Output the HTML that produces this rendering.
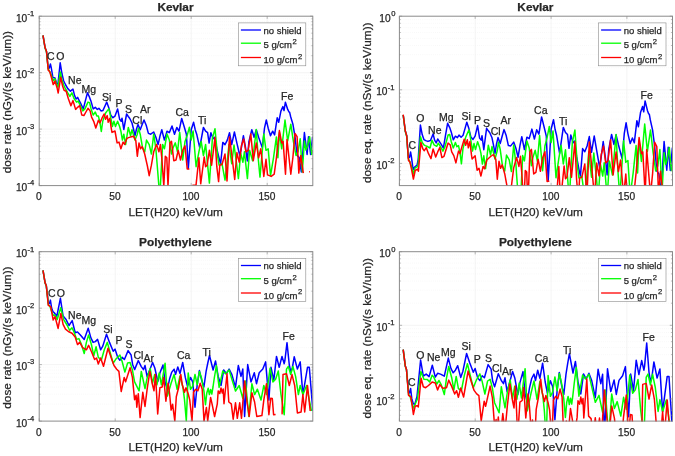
<!DOCTYPE html>
<html lang="en"><head><meta charset="utf-8"><title>Dose rate LET spectra</title>
<style>html,body{margin:0;padding:0;background:#fff}svg{display:block}text{font-family:'Liberation Sans', Arial, sans-serif;fill:#262626;stroke:#262626;stroke-width:0.25px}</style>
</head><body>
<svg width="675" height="456" viewBox="0 0 675 456">
<rect width="675" height="456" fill="#fff"/>
<defs>
<clipPath id="c0"><rect x="39.2" y="16.2" width="273.6" height="169.9"/></clipPath>
<clipPath id="c1"><rect x="399.4" y="16.2" width="273.6" height="169.9"/></clipPath>
<clipPath id="c2"><rect x="39.2" y="251.7" width="273.6" height="169.9"/></clipPath>
<clipPath id="c3"><rect x="399.4" y="251.7" width="273.6" height="169.9"/></clipPath>
</defs>
<g><line x1="115.2" y1="16.2" x2="115.2" y2="185.6" stroke="#ededed" stroke-width="0.6"/><line x1="191.2" y1="16.2" x2="191.2" y2="185.6" stroke="#ededed" stroke-width="0.6"/><line x1="267.2" y1="16.2" x2="267.2" y2="185.6" stroke="#ededed" stroke-width="0.6"/><line x1="39.2" y1="72.7" x2="312.8" y2="72.7" stroke="#ededed" stroke-width="0.6"/><line x1="39.2" y1="129.1" x2="312.8" y2="129.1" stroke="#ededed" stroke-width="0.6"/><line x1="39.2" y1="168.6" x2="312.8" y2="168.6" stroke="#ececec" stroke-width="0.5" stroke-dasharray="0.7 1.4"/><line x1="39.2" y1="158.7" x2="312.8" y2="158.7" stroke="#ececec" stroke-width="0.5" stroke-dasharray="0.7 1.4"/><line x1="39.2" y1="151.6" x2="312.8" y2="151.6" stroke="#ececec" stroke-width="0.5" stroke-dasharray="0.7 1.4"/><line x1="39.2" y1="146.1" x2="312.8" y2="146.1" stroke="#ececec" stroke-width="0.5" stroke-dasharray="0.7 1.4"/><line x1="39.2" y1="141.7" x2="312.8" y2="141.7" stroke="#ececec" stroke-width="0.5" stroke-dasharray="0.7 1.4"/><line x1="39.2" y1="137.9" x2="312.8" y2="137.9" stroke="#ececec" stroke-width="0.5" stroke-dasharray="0.7 1.4"/><line x1="39.2" y1="134.6" x2="312.8" y2="134.6" stroke="#ececec" stroke-width="0.5" stroke-dasharray="0.7 1.4"/><line x1="39.2" y1="131.7" x2="312.8" y2="131.7" stroke="#ececec" stroke-width="0.5" stroke-dasharray="0.7 1.4"/><line x1="39.2" y1="112.1" x2="312.8" y2="112.1" stroke="#ececec" stroke-width="0.5" stroke-dasharray="0.7 1.4"/><line x1="39.2" y1="102.2" x2="312.8" y2="102.2" stroke="#ececec" stroke-width="0.5" stroke-dasharray="0.7 1.4"/><line x1="39.2" y1="95.1" x2="312.8" y2="95.1" stroke="#ececec" stroke-width="0.5" stroke-dasharray="0.7 1.4"/><line x1="39.2" y1="89.7" x2="312.8" y2="89.7" stroke="#ececec" stroke-width="0.5" stroke-dasharray="0.7 1.4"/><line x1="39.2" y1="85.2" x2="312.8" y2="85.2" stroke="#ececec" stroke-width="0.5" stroke-dasharray="0.7 1.4"/><line x1="39.2" y1="81.4" x2="312.8" y2="81.4" stroke="#ececec" stroke-width="0.5" stroke-dasharray="0.7 1.4"/><line x1="39.2" y1="78.1" x2="312.8" y2="78.1" stroke="#ececec" stroke-width="0.5" stroke-dasharray="0.7 1.4"/><line x1="39.2" y1="75.3" x2="312.8" y2="75.3" stroke="#ececec" stroke-width="0.5" stroke-dasharray="0.7 1.4"/><line x1="39.2" y1="55.7" x2="312.8" y2="55.7" stroke="#ececec" stroke-width="0.5" stroke-dasharray="0.7 1.4"/><line x1="39.2" y1="45.7" x2="312.8" y2="45.7" stroke="#ececec" stroke-width="0.5" stroke-dasharray="0.7 1.4"/><line x1="39.2" y1="38.7" x2="312.8" y2="38.7" stroke="#ececec" stroke-width="0.5" stroke-dasharray="0.7 1.4"/><line x1="39.2" y1="33.2" x2="312.8" y2="33.2" stroke="#ececec" stroke-width="0.5" stroke-dasharray="0.7 1.4"/><line x1="39.2" y1="28.7" x2="312.8" y2="28.7" stroke="#ececec" stroke-width="0.5" stroke-dasharray="0.7 1.4"/><line x1="39.2" y1="24.9" x2="312.8" y2="24.9" stroke="#ececec" stroke-width="0.5" stroke-dasharray="0.7 1.4"/><line x1="39.2" y1="21.7" x2="312.8" y2="21.7" stroke="#ececec" stroke-width="0.5" stroke-dasharray="0.7 1.4"/><line x1="39.2" y1="18.8" x2="312.8" y2="18.8" stroke="#ececec" stroke-width="0.5" stroke-dasharray="0.7 1.4"/></g>
<g clip-path="url(#c0)" fill="none" stroke-width="1.50" stroke-linejoin="round" stroke-linecap="butt">
<path d="M43.0 35.5 L45.1 47.8 L46.5 51.5 L48.2 68.5 L49.3 68.0 L50.4 63.9 L51.3 68.0 L52.9 77.5 L55.0 77.9 L56.9 84.4 L58.0 83.5 L60.2 62.8 L62.0 74.0 L63.7 81.0 L65.7 85.0 L67.8 88.6 L70.4 91.2 L73.0 89.1 L74.5 95.4 L76.1 99.0 L77.6 97.4 L79.2 100.6 L81.3 104.7 L83.3 108.9 L85.4 100.6 L87.5 92.8 L89.6 97.4 L91.1 101.6 L93.2 108.9 L95.3 107.3 L97.3 109.4 L98.9 108.3 L101.0 110.9 L103.0 110.4 L105.1 105.7 L106.7 102.1 L108.8 107.8 L110.8 115.1 L112.9 117.7 L115.0 116.1 L117.6 108.9 L119.6 119.2 L121.2 121.3 L122.0 118.2 L123.8 129.5 L125.3 121.0 L126.6 114.0 L128.3 116.5 L129.8 118.5 L132.0 123.0 L133.5 129.0 L135.0 135.7 L136.5 129.0 L138.0 124.5 L140.2 129.7 L142.0 125.0 L144.0 120.0 L146.2 125.2 L148.4 133.4 L150.7 134.2 L153.7 132.0 L155.9 137.2 L158.1 144.6 L160.0 136.0 L161.8 129.7 L164.4 140.1 L167.0 131.2 L169.3 132.7 L172.0 126.0 L174.5 134.2 L176.8 127.5 L179.0 131.2 L181.7 118.5 L184.2 126.7 L186.4 134.2 L188.3 168.5 L191.2 129.7 L193.6 122.3 L195.2 129.7 L196.7 134.2 L199.7 147.6 L203.4 127.5 L205.6 131.2 L207.6 132.7 L209.1 143.1 L210.9 132.7 L213.1 138.7 L214.6 137.2 L216.8 149.0 L219.0 158.0 L220.6 164.0 L222.8 142.4 L225.0 144.6 L227.3 140.1 L229.5 132.7 L231.7 144.6 L234.4 132.0 L236.9 143.1 L238.5 150.0 L239.9 156.0 L241.5 147.0 L243.4 135.7 L245.6 148.0 L247.3 161.0 L248.9 141.6 L251.8 129.7 L254.1 137.2 L256.3 129.7 L258.6 137.2 L262.3 147.6 L264.5 128.2 L266.3 120.0 L268.2 128.2 L270.5 135.7 L272.7 131.2 L274.6 134.9 L277.2 117.8 L278.7 122.3 L280.9 111.1 L282.9 106.6 L284.0 110.6 L285.4 102.2 L287.7 109.4 L289.0 112.0 L289.6 112.2 L290.6 116.5 L292.9 124.2 L295.0 136.7 L297.1 155.4 L299.2 157.5 L301.3 172.0 L304.4 132.5 L307.1 154.4 L308.5 136.7 L310.6 154.4 L312.7 136.7" stroke="#0000ff"/>
<path d="M43.0 35.5 L45.1 48.0 L46.5 52.0 L48.2 69.0 L49.7 71.5 L51.3 75.0 L53.2 80.8 L55.0 78.8 L57.2 86.7 L58.0 87.0 L60.3 72.0 L62.0 80.0 L63.7 85.0 L65.2 88.1 L67.8 92.8 L69.9 96.4 L71.9 92.8 L74.0 98.5 L76.6 102.1 L78.2 101.1 L80.2 105.2 L82.8 110.9 L84.9 108.9 L88.0 102.1 L89.6 102.6 L91.1 108.9 L93.2 115.1 L95.3 112.0 L96.8 116.1 L98.4 116.1 L99.9 122.3 L101.3 131.5 L102.8 121.0 L103.7 118.5 L105.6 113.0 L107.2 110.9 L108.8 108.9 L110.3 115.1 L112.4 126.5 L113.9 121.3 L115.5 126.5 L117.6 121.3 L119.6 126.5 L120.9 131.2 L122.4 140.1 L123.8 134.2 L125.6 144.6 L128.3 127.5 L130.6 135.7 L132.0 129.7 L135.0 140.1 L137.3 134.2 L138.5 128.2 L140.2 134.2 L142.5 147.6 L144.7 152.0 L146.5 140.1 L149.2 144.6 L151.4 154.0 L153.7 134.2 L155.9 149.0 L156.6 157.8 L158.9 186.0 L160.4 186.0 L162.6 144.4 L164.4 148.8 L167.0 134.0 L169.3 139.9 L171.5 154.0 L173.0 148.0 L175.3 142.9 L177.5 151.8 L179.7 132.4 L182.7 160.0 L185.0 141.4 L187.2 135.4 L189.4 127.2 L191.2 139.9 L193.1 131.0 L196.1 166.7 L198.9 151.8 L201.2 141.4 L203.4 155.5 L205.6 144.4 L209.4 183.1 L212.4 138.4 L215.0 128.7 L217.6 156.3 L219.1 165.2 L222.0 163.7 L225.0 180.1 L227.3 160.7 L229.0 144.4 L231.7 163.7 L234.0 145.1 L236.2 160.7 L238.4 178.6 L240.7 153.3 L242.9 162.2 L244.4 151.8 L247.4 178.6 L249.6 150.3 L252.6 160.7 L256.3 129.5 L258.3 159.3 L260.0 177.1 L263.8 133.9 L266.0 150.3 L268.2 148.8 L270.5 175.7 L273.5 157.8 L276.4 136.9 L277.9 157.8 L279.4 132.4 L281.7 148.8 L285.0 120.0 L287.7 140.8 L290.8 124.2 L293.3 140.8 L296.0 155.4 L298.1 151.3 L300.2 138.8 L302.3 172.0 L304.4 141.0 L306.0 150.0 L307.5 146.0 L309.6 136.7 L311.7 154.4 L312.7 150.0" stroke="#00ff00"/>
<path d="M43.0 35.3 L45.1 47.8 L46.5 51.3 L48.3 70.4 L49.7 71.5 L51.3 77.0 L53.2 84.6 L55.0 81.0 L57.2 88.4 L58.2 93.0 L60.7 77.2 L61.7 82.0 L62.6 86.0 L64.1 90.2 L66.2 91.2 L68.3 98.5 L70.9 105.7 L73.0 100.6 L75.6 109.4 L77.6 107.3 L79.7 105.7 L81.8 115.1 L83.9 115.6 L85.9 112.0 L88.0 108.3 L90.1 110.9 L91.6 117.2 L93.7 121.3 L95.8 128.0 L98.4 120.3 L99.9 122.9 L102.0 118.2 L104.1 114.0 L105.6 119.2 L107.2 115.6 L108.2 122.3 L109.8 118.2 L111.3 128.6 L112.0 132.4 L115.0 131.0 L117.1 142.9 L119.0 142.1 L120.9 148.8 L123.1 142.1 L124.6 144.4 L126.8 138.4 L130.6 136.9 L133.5 136.2 L135.8 140.6 L137.3 156.3 L139.0 142.9 L140.5 148.8 L142.2 146.6 L144.7 154.0 L147.4 166.0 L149.2 175.7 L151.4 165.2 L153.7 151.8 L156.6 144.4 L158.9 151.8 L160.4 144.4 L161.8 157.8 L163.8 186.0 L165.3 156.3 L166.8 157.8 L168.0 186.0 L170.0 142.9 L171.5 141.4 L173.8 160.7 L176.0 160.0 L178.2 150.3 L180.5 160.0 L182.7 150.3 L185.0 145.8 L187.2 169.0 L189.4 169.0 M192.4 185.3 L196.0 185.3 L198.9 157.8 L200.7 183.8 L204.2 157.0 L205.6 166.7 L207.1 165.2 L209.4 150.3 L211.6 165.2 L215.0 137.6 L216.8 166.7 L218.6 181.6 L219.8 165.2 L222.0 164.5 L225.0 154.0 L227.0 180.9 L229.5 136.9 L231.7 154.0 L234.7 179.4 L236.9 152.6 L239.2 162.2 L241.4 145.8 L243.7 139.1 L245.9 151.8 L248.1 150.3 L250.8 133.9 L253.3 160.7 L256.3 142.9 L258.6 157.8 L260.8 148.8 L263.8 176.4 L266.0 159.3 L267.5 174.9 L271.2 176.4 L274.2 174.2 L276.4 157.8 L279.4 130.6 L281.7 142.9 L283.1 141.4 L285.5 174.2 L287.0 139.5 L290.8 174.2 L292.9 157.5 L295.0 133.5 L297.1 136.7 L298.8 173.1 L300.8 155.4 L303.3 173.1 M309.2 171.7 L310.0 171.7" stroke="#ff0000"/>
</g>
<rect x="39.2" y="16.2" width="273.6" height="169.4" fill="none" stroke="#8a8a8a" stroke-width="1"/>
<path d="M39.2 185.6v-2.7M39.2 16.2v2.7M115.2 185.6v-2.7M115.2 16.2v2.7M191.2 185.6v-2.7M191.2 16.2v2.7M267.2 185.6v-2.7M267.2 16.2v2.7M39.2 16.2h2.7M312.8 16.2h-2.7M39.2 72.7h2.7M312.8 72.7h-2.7M39.2 129.1h2.7M312.8 129.1h-2.7M39.2 185.6h2.7M312.8 185.6h-2.7M39.2 168.6h1.4M312.8 168.6h-1.4M39.2 158.7h1.4M312.8 158.7h-1.4M39.2 151.6h1.4M312.8 151.6h-1.4M39.2 146.1h1.4M312.8 146.1h-1.4M39.2 141.7h1.4M312.8 141.7h-1.4M39.2 137.9h1.4M312.8 137.9h-1.4M39.2 134.6h1.4M312.8 134.6h-1.4M39.2 131.7h1.4M312.8 131.7h-1.4M39.2 112.1h1.4M312.8 112.1h-1.4M39.2 102.2h1.4M312.8 102.2h-1.4M39.2 95.1h1.4M312.8 95.1h-1.4M39.2 89.7h1.4M312.8 89.7h-1.4M39.2 85.2h1.4M312.8 85.2h-1.4M39.2 81.4h1.4M312.8 81.4h-1.4M39.2 78.1h1.4M312.8 78.1h-1.4M39.2 75.3h1.4M312.8 75.3h-1.4M39.2 55.7h1.4M312.8 55.7h-1.4M39.2 45.7h1.4M312.8 45.7h-1.4M39.2 38.7h1.4M312.8 38.7h-1.4M39.2 33.2h1.4M312.8 33.2h-1.4M39.2 28.7h1.4M312.8 28.7h-1.4M39.2 24.9h1.4M312.8 24.9h-1.4M39.2 21.7h1.4M312.8 21.7h-1.4M39.2 18.8h1.4M312.8 18.8h-1.4" stroke="#8a8a8a" stroke-width="0.6" fill="none"/>
<text x="38.9" y="200.2" font-size="10.2" text-anchor="middle">0</text>
<text x="114.9" y="200.2" font-size="10.2" text-anchor="middle">50</text>
<text x="190.9" y="200.2" font-size="10.2" text-anchor="middle">100</text>
<text x="266.9" y="200.2" font-size="10.2" text-anchor="middle">150</text>
<text x="27.3" y="21.8" font-size="10.2" text-anchor="end">10</text>
<text x="34.3" y="16.0" font-size="7.6" text-anchor="end">-1</text>
<text x="27.3" y="78.3" font-size="10.2" text-anchor="end">10</text>
<text x="34.3" y="72.5" font-size="7.6" text-anchor="end">-2</text>
<text x="27.3" y="134.7" font-size="10.2" text-anchor="end">10</text>
<text x="34.3" y="128.9" font-size="7.6" text-anchor="end">-3</text>
<text x="27.3" y="191.2" font-size="10.2" text-anchor="end">10</text>
<text x="34.3" y="185.4" font-size="7.6" text-anchor="end">-4</text>
<text x="175.5" y="10.6" font-size="11.8" font-weight="bold" text-anchor="middle">Kevlar</text>
<text x="175.7" y="215.8" font-size="11.8" text-anchor="middle">LET(H20) keV/um</text>
<text transform="translate(10.5 102.1) rotate(-90)" font-size="11.8" text-anchor="middle">dose rate (nGy/(s keV/um))</text>
<rect x="238.3" y="22.9" width="67.5" height="42.9" fill="#fff" stroke="#8a8a8a" stroke-width="0.6"/>
<line x1="240.9" y1="30.0" x2="261.0" y2="30.0" stroke="#0000ff" stroke-width="1.3"/>
<text x="263.5" y="33.7" font-size="9.5">no shield</text>
<line x1="240.9" y1="43.2" x2="261.0" y2="43.2" stroke="#00ff00" stroke-width="1.3"/>
<text x="263.5" y="48.4" font-size="9.5">5 g/cm<tspan dx="0.6" dy="-4.1" font-size="7.6">2</tspan></text>
<line x1="240.9" y1="57.5" x2="261.0" y2="57.5" stroke="#ff0000" stroke-width="1.3"/>
<text x="263.5" y="63.0" font-size="9.5">10 g/cm<tspan dx="0.6" dy="-4.1" font-size="7.6">2</tspan></text>
<text x="47.0" y="59.5" font-size="10.5">C</text>
<text x="56.2" y="59.5" font-size="10.5">O</text>
<text x="68.1" y="83.5" font-size="10.5">Ne</text>
<text x="81.5" y="92.7" font-size="10.5">Mg</text>
<text x="102.1" y="100.5" font-size="10.5">Si</text>
<text x="115.5" y="107.2" font-size="10.5">P</text>
<text x="124.9" y="112.6" font-size="10.5">S</text>
<text x="132.3" y="123.8" font-size="10.5">Cl</text>
<text x="140.1" y="113.2" font-size="10.5">Ar</text>
<text x="175.5" y="116.1" font-size="10.5">Ca</text>
<text x="198.0" y="124.0" font-size="10.5">Ti</text>
<text x="281.0" y="100.0" font-size="10.5">Fe</text>
<g><line x1="475.2" y1="16.2" x2="475.2" y2="185.6" stroke="#ededed" stroke-width="0.6"/><line x1="551.1" y1="16.2" x2="551.1" y2="185.6" stroke="#ededed" stroke-width="0.6"/><line x1="626.9" y1="16.2" x2="626.9" y2="185.6" stroke="#ededed" stroke-width="0.6"/><line x1="399.4" y1="89.8" x2="672.5" y2="89.8" stroke="#ededed" stroke-width="0.6"/><line x1="399.4" y1="163.4" x2="672.5" y2="163.4" stroke="#ededed" stroke-width="0.6"/><line x1="399.4" y1="179.8" x2="672.5" y2="179.8" stroke="#ececec" stroke-width="0.5" stroke-dasharray="0.7 1.4"/><line x1="399.4" y1="174.8" x2="672.5" y2="174.8" stroke="#ececec" stroke-width="0.5" stroke-dasharray="0.7 1.4"/><line x1="399.4" y1="170.6" x2="672.5" y2="170.6" stroke="#ececec" stroke-width="0.5" stroke-dasharray="0.7 1.4"/><line x1="399.4" y1="166.8" x2="672.5" y2="166.8" stroke="#ececec" stroke-width="0.5" stroke-dasharray="0.7 1.4"/><line x1="399.4" y1="141.3" x2="672.5" y2="141.3" stroke="#ececec" stroke-width="0.5" stroke-dasharray="0.7 1.4"/><line x1="399.4" y1="128.3" x2="672.5" y2="128.3" stroke="#ececec" stroke-width="0.5" stroke-dasharray="0.7 1.4"/><line x1="399.4" y1="119.1" x2="672.5" y2="119.1" stroke="#ececec" stroke-width="0.5" stroke-dasharray="0.7 1.4"/><line x1="399.4" y1="112.0" x2="672.5" y2="112.0" stroke="#ececec" stroke-width="0.5" stroke-dasharray="0.7 1.4"/><line x1="399.4" y1="106.2" x2="672.5" y2="106.2" stroke="#ececec" stroke-width="0.5" stroke-dasharray="0.7 1.4"/><line x1="399.4" y1="101.2" x2="672.5" y2="101.2" stroke="#ececec" stroke-width="0.5" stroke-dasharray="0.7 1.4"/><line x1="399.4" y1="97.0" x2="672.5" y2="97.0" stroke="#ececec" stroke-width="0.5" stroke-dasharray="0.7 1.4"/><line x1="399.4" y1="93.2" x2="672.5" y2="93.2" stroke="#ececec" stroke-width="0.5" stroke-dasharray="0.7 1.4"/><line x1="399.4" y1="67.7" x2="672.5" y2="67.7" stroke="#ececec" stroke-width="0.5" stroke-dasharray="0.7 1.4"/><line x1="399.4" y1="54.7" x2="672.5" y2="54.7" stroke="#ececec" stroke-width="0.5" stroke-dasharray="0.7 1.4"/><line x1="399.4" y1="45.5" x2="672.5" y2="45.5" stroke="#ececec" stroke-width="0.5" stroke-dasharray="0.7 1.4"/><line x1="399.4" y1="38.4" x2="672.5" y2="38.4" stroke="#ececec" stroke-width="0.5" stroke-dasharray="0.7 1.4"/><line x1="399.4" y1="32.5" x2="672.5" y2="32.5" stroke="#ececec" stroke-width="0.5" stroke-dasharray="0.7 1.4"/><line x1="399.4" y1="27.6" x2="672.5" y2="27.6" stroke="#ececec" stroke-width="0.5" stroke-dasharray="0.7 1.4"/><line x1="399.4" y1="23.3" x2="672.5" y2="23.3" stroke="#ececec" stroke-width="0.5" stroke-dasharray="0.7 1.4"/><line x1="399.4" y1="19.6" x2="672.5" y2="19.6" stroke="#ececec" stroke-width="0.5" stroke-dasharray="0.7 1.4"/></g>
<g clip-path="url(#c1)" fill="none" stroke-width="1.50" stroke-linejoin="round" stroke-linecap="butt">
<path d="M403.2 115.0 L405.3 131.0 L406.7 135.8 L408.4 158.0 L409.5 157.4 L410.6 152.0 L411.5 157.4 L413.1 169.7 L415.2 166.5 L417.1 165.2 L418.2 159.5 L420.4 125.1 L422.2 134.6 L423.9 139.6 L425.8 140.6 L427.9 141.4 L430.5 140.5 L433.1 133.9 L434.6 140.2 L436.2 142.9 L437.7 139.0 L439.3 141.4 L441.4 144.6 L443.4 148.1 L445.5 135.3 L447.6 123.3 L449.7 127.6 L451.2 131.9 L453.3 139.8 L455.4 136.2 L457.4 137.6 L459.0 135.1 L461.1 137.2 L463.1 135.3 L465.2 127.9 L466.8 122.3 L468.9 128.6 L470.9 137.1 L473.0 139.4 L475.1 136.2 L477.6 125.6 L479.6 138.1 L481.2 140.1 L482.0 135.7 L483.8 149.7 L485.3 138.0 L486.6 128.3 L488.3 130.8 L489.8 132.8 L492.0 137.8 L493.5 145.1 L495.0 153.3 L496.5 144.0 L498.0 137.6 L500.2 143.5 L502.0 136.8 L504.0 129.6 L506.2 135.6 L508.4 145.6 L510.7 145.9 L513.7 142.1 L515.9 148.2 L518.1 157.2 L520.0 145.4 L521.8 136.7 L524.4 149.5 L526.9 137.2 L529.2 138.6 L531.9 129.1 L534.4 139.1 L536.7 129.8 L538.9 134.1 L541.6 116.9 L544.1 127.0 L546.3 136.2 L548.2 180.5 L551.1 129.3 L553.5 119.7 L555.1 129.5 L556.6 135.5 L559.6 153.3 L563.3 127.4 L565.5 132.5 L567.5 134.6 L569.0 148.3 L570.8 134.9 L573.0 142.9 L574.5 141.1 L576.6 156.7 L578.8 168.6 L580.4 176.6 L582.6 148.6 L584.8 151.7 L587.1 146.0 L589.3 136.6 L591.5 152.3 L594.2 136.0 L596.7 150.7 L598.3 159.8 L599.7 167.8 L601.3 156.2 L603.2 141.6 L605.4 157.8 L607.1 174.9 L608.7 149.7 L611.6 134.4 L613.9 144.4 L616.1 134.8 L618.4 144.7 L622.1 158.5 L624.3 133.4 L626.1 122.8 L627.9 133.6 L630.2 143.6 L632.4 137.9 L634.3 142.8 L636.9 120.7 L638.4 126.7 L640.6 112.2 L642.6 106.5 L643.7 111.8 L645.1 100.9 L647.4 110.4 L648.7 113.9 L649.3 114.2 L650.3 119.9 L652.6 130.1 L654.7 146.5 L656.8 171.0 L658.9 173.9 L661.0 192.9 L664.1 141.6 L666.8 170.3 L668.2 147.3 L670.3 170.5 L672.4 147.6" stroke="#0000ff"/>
<path d="M403.2 115.0 L405.3 131.3 L406.7 136.5 L408.4 158.7 L409.9 161.9 L411.5 166.5 L413.4 174.0 L415.2 167.6 L417.4 166.9 L418.2 164.1 L420.5 136.8 L422.2 142.4 L423.9 144.8 L425.3 145.6 L427.9 146.8 L430.0 148.0 L432.0 140.3 L434.1 144.9 L436.7 146.3 L438.3 143.2 L440.3 146.3 L442.9 151.2 L445.0 146.6 L448.1 135.0 L449.7 134.4 L451.2 141.4 L453.3 147.9 L455.4 142.4 L456.9 146.7 L458.5 145.6 L460.0 152.7 L461.4 163.8 L462.9 149.2 L463.8 145.4 L465.7 137.2 L467.3 133.5 L468.9 130.0 L470.4 137.3 L472.5 151.1 L474.0 143.6 L475.5 149.6 L477.6 141.8 L479.6 147.6 L480.9 153.2 L482.4 164.1 L483.8 155.8 L485.6 168.6 L488.3 145.2 L490.6 155.0 L492.0 146.6 L495.0 159.0 L497.3 150.5 L498.5 142.2 L500.2 149.4 L502.5 166.1 L504.7 171.1 L506.5 155.0 L509.2 159.9 L511.4 171.5 L513.7 145.0 L515.9 163.6 L516.6 174.9 L518.9 205.6 L520.4 205.6 L522.6 155.6 L524.4 160.9 L526.9 140.9 L529.2 147.9 L531.4 165.7 L532.9 157.5 L535.2 150.3 L537.4 161.3 L539.6 135.5 L542.6 170.7 L544.9 146.0 L547.1 137.6 L549.3 126.4 L551.1 142.6 L553.0 130.9 L556.0 177.8 L558.8 158.7 L561.1 145.3 L563.3 163.9 L565.5 149.7 L569.3 200.5 L572.3 142.5 L574.9 130.1 L577.4 166.3 L578.9 178.0 L581.8 176.3 L584.8 198.0 L587.1 172.9 L588.8 151.8 L591.5 177.2 L593.8 153.1 L596.0 173.6 L598.2 197.1 L600.5 164.3 L602.7 176.1 L604.2 162.7 L607.2 197.8 L609.4 161.1 L612.4 174.9 L616.1 134.5 L618.1 173.5 L619.8 196.8 L623.6 140.8 L625.8 162.3 L627.9 160.5 L630.2 195.7 L633.2 172.6 L636.1 145.6 L637.6 172.9 L639.1 139.9 L641.4 161.4 L644.7 124.1 L647.4 151.4 L650.5 129.9 L653.0 151.7 L655.7 170.9 L657.8 165.7 L659.9 149.6 L662.0 193.0 L664.1 152.7 L665.7 164.5 L667.2 159.4 L669.3 147.4 L671.4 170.6 L672.4 164.9" stroke="#00ff00"/>
<path d="M403.2 114.7 L405.3 131.0 L406.7 135.6 L408.5 160.5 L409.9 161.9 L411.5 169.1 L413.4 179.0 L415.2 170.5 L417.4 169.1 L418.4 171.2 L420.9 142.4 L421.9 145.8 L422.8 148.8 L424.3 150.7 L426.3 147.7 L428.4 153.4 L431.0 158.6 L433.1 148.9 L435.7 157.0 L437.7 151.9 L439.8 147.5 L441.9 157.6 L444.0 156.3 L446.0 149.7 L448.1 143.1 L450.2 144.8 L451.7 151.9 L453.8 155.6 L455.9 162.9 L458.5 151.1 L460.0 153.5 L462.1 146.1 L464.2 139.3 L465.7 145.3 L467.3 139.7 L468.3 147.8 L469.9 141.6 L471.4 154.4 L472.1 159.0 L475.1 155.7 L477.1 170.2 L479.0 168.2 L480.9 176.1 L483.1 166.4 L484.6 168.8 L486.8 160.0 L490.6 156.5 L493.5 154.5 L495.8 159.4 L497.3 179.3 L499.0 161.2 L500.5 168.3 L502.2 164.9 L504.7 173.7 L507.4 188.4 L509.2 200.5 L511.4 186.1 L513.7 167.9 L516.6 157.4 L518.9 166.4 L520.4 156.3 L521.8 173.3 L523.8 205.6 L525.3 170.4 L526.7 172.0 L527.9 205.6 L529.9 151.7 L531.4 149.3 L533.7 173.9 L535.9 172.4 L538.1 159.2 L540.4 171.3 L542.6 158.1 L544.9 151.7 L547.1 181.4 L549.3 180.9 M552.3 205.6 L555.9 205.6 L558.8 166.5 L560.6 200.6 L564.1 166.0 L565.5 178.7 L567.0 176.9 L569.3 157.7 L571.5 177.3 L574.9 141.7 L576.6 179.8 L578.4 199.4 L579.6 178.1 L581.8 177.4 L584.8 163.9 L586.8 199.2 L589.3 142.0 L591.5 164.5 L594.5 197.9 L596.7 163.1 L599.0 175.8 L601.2 154.6 L603.5 146.1 L605.7 162.8 L607.9 161.0 L610.6 139.8 L613.1 174.9 L616.1 152.0 L618.4 171.6 L620.6 160.0 L623.6 196.2 L625.8 174.0 L627.2 194.5 L630.9 196.7 L633.9 194.0 L636.1 172.8 L639.1 137.5 L641.4 153.7 L642.8 151.9 L645.2 194.8 L646.7 149.6 L650.5 195.1 L652.6 173.5 L654.7 142.3 L656.8 146.6 L658.5 194.2 L660.5 171.2 L663.0 194.5 M668.9 193.0 L669.7 193.0" stroke="#ff0000"/>
</g>
<rect x="399.4" y="16.2" width="273.1" height="169.4" fill="none" stroke="#8a8a8a" stroke-width="1"/>
<path d="M399.4 185.6v-2.7M399.4 16.2v2.7M475.2 185.6v-2.7M475.2 16.2v2.7M551.1 185.6v-2.7M551.1 16.2v2.7M626.9 185.6v-2.7M626.9 16.2v2.7M399.4 16.2h2.7M672.5 16.2h-2.7M399.4 89.8h2.7M672.5 89.8h-2.7M399.4 163.4h2.7M672.5 163.4h-2.7M399.4 179.8h1.4M672.5 179.8h-1.4M399.4 174.8h1.4M672.5 174.8h-1.4M399.4 170.6h1.4M672.5 170.6h-1.4M399.4 166.8h1.4M672.5 166.8h-1.4M399.4 141.3h1.4M672.5 141.3h-1.4M399.4 128.3h1.4M672.5 128.3h-1.4M399.4 119.1h1.4M672.5 119.1h-1.4M399.4 112.0h1.4M672.5 112.0h-1.4M399.4 106.2h1.4M672.5 106.2h-1.4M399.4 101.2h1.4M672.5 101.2h-1.4M399.4 97.0h1.4M672.5 97.0h-1.4M399.4 93.2h1.4M672.5 93.2h-1.4M399.4 67.7h1.4M672.5 67.7h-1.4M399.4 54.7h1.4M672.5 54.7h-1.4M399.4 45.5h1.4M672.5 45.5h-1.4M399.4 38.4h1.4M672.5 38.4h-1.4M399.4 32.5h1.4M672.5 32.5h-1.4M399.4 27.6h1.4M672.5 27.6h-1.4M399.4 23.3h1.4M672.5 23.3h-1.4M399.4 19.6h1.4M672.5 19.6h-1.4" stroke="#8a8a8a" stroke-width="0.6" fill="none"/>
<text x="399.1" y="200.2" font-size="10.2" text-anchor="middle">0</text>
<text x="474.9" y="200.2" font-size="10.2" text-anchor="middle">50</text>
<text x="550.8" y="200.2" font-size="10.2" text-anchor="middle">100</text>
<text x="626.6" y="200.2" font-size="10.2" text-anchor="middle">150</text>
<text x="390.7" y="21.8" font-size="10.2" text-anchor="end">10</text>
<text x="395.4" y="16.0" font-size="7.6" text-anchor="end">0</text>
<text x="387.5" y="95.4" font-size="10.2" text-anchor="end">10</text>
<text x="394.5" y="89.6" font-size="7.6" text-anchor="end">-1</text>
<text x="387.5" y="169.0" font-size="10.2" text-anchor="end">10</text>
<text x="394.5" y="163.2" font-size="7.6" text-anchor="end">-2</text>
<text x="535.4" y="10.6" font-size="11.8" font-weight="bold" text-anchor="middle">Kevlar</text>
<text x="535.6" y="215.8" font-size="11.8" text-anchor="middle">LET(H20) keV/um</text>
<text transform="translate(370.7 102.8) rotate(-90)" font-size="11.8" text-anchor="middle">dose eq. rate (nSv/(s keV/um))</text>
<rect x="598.5" y="22.9" width="67.5" height="42.9" fill="#fff" stroke="#8a8a8a" stroke-width="0.6"/>
<line x1="601.1" y1="30.0" x2="621.2" y2="30.0" stroke="#0000ff" stroke-width="1.3"/>
<text x="623.7" y="33.7" font-size="9.5">no shield</text>
<line x1="601.1" y1="43.2" x2="621.2" y2="43.2" stroke="#00ff00" stroke-width="1.3"/>
<text x="623.7" y="48.4" font-size="9.5">5 g/cm<tspan dx="0.6" dy="-4.1" font-size="7.6">2</tspan></text>
<line x1="601.1" y1="57.5" x2="621.2" y2="57.5" stroke="#ff0000" stroke-width="1.3"/>
<text x="623.7" y="63.0" font-size="9.5">10 g/cm<tspan dx="0.6" dy="-4.1" font-size="7.6">2</tspan></text>
<text x="408.4" y="149.3" font-size="10.5">C</text>
<text x="416.3" y="122.0" font-size="10.5">O</text>
<text x="428.1" y="133.7" font-size="10.5">Ne</text>
<text x="439.1" y="121.0" font-size="10.5">Mg</text>
<text x="461.4" y="120.3" font-size="10.5">Si</text>
<text x="474.0" y="123.6" font-size="10.5">P</text>
<text x="482.9" y="126.5" font-size="10.5">S</text>
<text x="490.7" y="134.8" font-size="10.5">Cl</text>
<text x="500.6" y="123.6" font-size="10.5">Ar</text>
<text x="534.1" y="113.5" font-size="10.5">Ca</text>
<text x="559.0" y="125.0" font-size="10.5">Ti</text>
<text x="640.5" y="98.5" font-size="10.5">Fe</text>
<g><line x1="115.2" y1="251.7" x2="115.2" y2="421.1" stroke="#ededed" stroke-width="0.6"/><line x1="191.2" y1="251.7" x2="191.2" y2="421.1" stroke="#ededed" stroke-width="0.6"/><line x1="267.2" y1="251.7" x2="267.2" y2="421.1" stroke="#ededed" stroke-width="0.6"/><line x1="39.2" y1="308.2" x2="312.8" y2="308.2" stroke="#ededed" stroke-width="0.6"/><line x1="39.2" y1="364.6" x2="312.8" y2="364.6" stroke="#ededed" stroke-width="0.6"/><line x1="39.2" y1="404.1" x2="312.8" y2="404.1" stroke="#ececec" stroke-width="0.5" stroke-dasharray="0.7 1.4"/><line x1="39.2" y1="394.2" x2="312.8" y2="394.2" stroke="#ececec" stroke-width="0.5" stroke-dasharray="0.7 1.4"/><line x1="39.2" y1="387.1" x2="312.8" y2="387.1" stroke="#ececec" stroke-width="0.5" stroke-dasharray="0.7 1.4"/><line x1="39.2" y1="381.6" x2="312.8" y2="381.6" stroke="#ececec" stroke-width="0.5" stroke-dasharray="0.7 1.4"/><line x1="39.2" y1="377.2" x2="312.8" y2="377.2" stroke="#ececec" stroke-width="0.5" stroke-dasharray="0.7 1.4"/><line x1="39.2" y1="373.4" x2="312.8" y2="373.4" stroke="#ececec" stroke-width="0.5" stroke-dasharray="0.7 1.4"/><line x1="39.2" y1="370.1" x2="312.8" y2="370.1" stroke="#ececec" stroke-width="0.5" stroke-dasharray="0.7 1.4"/><line x1="39.2" y1="367.2" x2="312.8" y2="367.2" stroke="#ececec" stroke-width="0.5" stroke-dasharray="0.7 1.4"/><line x1="39.2" y1="347.6" x2="312.8" y2="347.6" stroke="#ececec" stroke-width="0.5" stroke-dasharray="0.7 1.4"/><line x1="39.2" y1="337.7" x2="312.8" y2="337.7" stroke="#ececec" stroke-width="0.5" stroke-dasharray="0.7 1.4"/><line x1="39.2" y1="330.6" x2="312.8" y2="330.6" stroke="#ececec" stroke-width="0.5" stroke-dasharray="0.7 1.4"/><line x1="39.2" y1="325.2" x2="312.8" y2="325.2" stroke="#ececec" stroke-width="0.5" stroke-dasharray="0.7 1.4"/><line x1="39.2" y1="320.7" x2="312.8" y2="320.7" stroke="#ececec" stroke-width="0.5" stroke-dasharray="0.7 1.4"/><line x1="39.2" y1="316.9" x2="312.8" y2="316.9" stroke="#ececec" stroke-width="0.5" stroke-dasharray="0.7 1.4"/><line x1="39.2" y1="313.6" x2="312.8" y2="313.6" stroke="#ececec" stroke-width="0.5" stroke-dasharray="0.7 1.4"/><line x1="39.2" y1="310.8" x2="312.8" y2="310.8" stroke="#ececec" stroke-width="0.5" stroke-dasharray="0.7 1.4"/><line x1="39.2" y1="291.2" x2="312.8" y2="291.2" stroke="#ececec" stroke-width="0.5" stroke-dasharray="0.7 1.4"/><line x1="39.2" y1="281.2" x2="312.8" y2="281.2" stroke="#ececec" stroke-width="0.5" stroke-dasharray="0.7 1.4"/><line x1="39.2" y1="274.2" x2="312.8" y2="274.2" stroke="#ececec" stroke-width="0.5" stroke-dasharray="0.7 1.4"/><line x1="39.2" y1="268.7" x2="312.8" y2="268.7" stroke="#ececec" stroke-width="0.5" stroke-dasharray="0.7 1.4"/><line x1="39.2" y1="264.2" x2="312.8" y2="264.2" stroke="#ececec" stroke-width="0.5" stroke-dasharray="0.7 1.4"/><line x1="39.2" y1="260.4" x2="312.8" y2="260.4" stroke="#ececec" stroke-width="0.5" stroke-dasharray="0.7 1.4"/><line x1="39.2" y1="257.2" x2="312.8" y2="257.2" stroke="#ececec" stroke-width="0.5" stroke-dasharray="0.7 1.4"/><line x1="39.2" y1="254.3" x2="312.8" y2="254.3" stroke="#ececec" stroke-width="0.5" stroke-dasharray="0.7 1.4"/></g>
<g clip-path="url(#c2)" fill="none" stroke-width="1.50" stroke-linejoin="round" stroke-linecap="butt">
<path d="M43.0 270.3 L45.1 282.8 L46.3 285.7 L48.4 303.5 L49.4 303.5 L50.4 300.1 L51.6 308.0 L52.9 311.5 L54.5 313.0 L56.8 316.3 L60.4 298.3 L63.1 316.1 L66.1 319.6 L69.0 325.5 L72.2 320.6 L75.2 332.7 L77.5 331.9 L80.4 334.9 L84.2 339.4 L88.2 328.2 L90.9 337.9 L93.1 342.4 L95.3 341.6 L97.6 339.4 L100.6 349.8 L102.8 346.1 L106.5 334.2 L109.5 342.4 L113.2 351.3 L115.0 349.1 L117.7 357.3 L119.9 360.2 L122.2 357.3 L124.4 359.5 L128.1 350.6 L131.1 355.0 L132.6 364.4 L134.6 369.6 L138.3 360.6 L141.3 366.6 L143.5 369.6 L145.0 365.5 L147.1 376.6 L149.6 370.3 L152.6 362.5 L154.8 368.0 L157.8 381.5 L160.0 372.6 L163.0 365.0 L165.2 383.0 L167.4 389.3 L169.6 378.8 L171.8 372.1 L174.1 369.2 L175.6 374.4 L177.8 366.9 L180.0 373.6 L182.7 362.5 L185.3 377.4 L187.5 386.3 L190.5 377.4 L192.7 381.8 L195.0 407.2 L197.2 384.8 L199.4 370.6 L201.7 380.3 L203.9 387.0 L206.1 371.4 L207.8 363.0 L209.5 355.5 L211.3 362.8 L213.1 370.0 L215.5 361.0 L218.2 376.4 L221.0 385.5 L223.7 370.0 L226.4 373.7 L229.1 369.1 L231.9 374.6 L235.5 387.4 L238.3 365.5 L241.0 376.4 L242.8 369.1 L244.6 416.5 L247.7 364.6 L251.0 381.9 L254.3 372.8 L256.5 383.7 L259.2 372.8 L262.8 369.1 L265.6 361.9 L268.9 400.1 L271.0 367.3 L273.8 380.1 L276.5 356.4 L279.2 367.3 L282.0 356.4 L284.2 363.7 L284.9 360.5 L287.0 342.7 L289.3 365.0 L290.8 372.0 L292.3 368.0 L294.2 356.8 L297.4 369.1 L300.2 361.9 L302.9 394.6 L307.5 367.3 L309.3 367.3 L312.9 411.0" stroke="#0000ff"/>
<path d="M43.0 270.3 L45.1 283.0 L46.3 286.0 L48.4 304.7 L49.8 306.0 L51.8 312.0 L53.2 315.2 L55.0 315.0 L57.2 319.6 L60.7 307.8 L63.7 319.6 L67.3 325.5 L69.6 330.3 L72.0 327.9 L73.7 331.2 L76.7 339.4 L78.9 338.6 L81.2 343.8 L84.2 353.5 L86.4 342.4 L88.6 334.9 L91.6 345.3 L93.8 355.8 L96.1 346.8 L98.3 357.3 L101.3 360.2 L104.3 349.8 L107.3 342.4 L110.2 352.8 L113.2 363.2 L116.2 358.7 L119.9 355.0 L122.2 361.7 L124.9 372.1 L127.6 363.0 L130.1 362.5 L132.4 369.9 L134.6 381.8 L139.1 390.8 L141.3 371.4 L145.0 388.5 L147.3 377.4 L150.2 368.4 L152.5 383.3 L154.7 374.4 L156.9 384.8 L159.2 372.9 L161.4 384.8 L165.1 363.2 L167.4 396.0 L171.1 383.3 L174.1 374.4 L177.1 389.3 L180.0 375.9 L183.0 387.8 L184.5 399.7 L186.3 421.0 L188.2 372.9 L190.5 389.3 L192.7 386.3 L195.0 374.4 L197.2 384.8 L199.4 371.4 L201.7 378.8 L203.9 390.8 L205.5 404.7 L206.8 393.0 L208.2 388.3 L209.4 394.5 L210.6 389.5 L211.8 394.0 L213.0 387.0 L214.3 378.0 L216.4 365.5 L219.1 387.4 L222.8 371.0 L225.5 373.7 L229.1 370.0 L231.9 379.2 L235.5 391.0 L239.2 385.5 L242.8 398.3 L245.5 381.0 L248.8 416.5 L251.9 383.7 L254.6 394.6 L257.4 389.2 L261.0 400.1 L263.8 385.5 L266.5 394.6 L270.1 368.2 L272.9 381.9 L275.6 379.2 L278.3 371.0 L281.0 394.6 L284.2 414.7 L286.5 369.1 L288.3 366.4 L290.7 374.6 L292.9 366.4 L295.6 376.4 L298.4 394.6 L300.2 385.5 L302.9 394.6 L306.6 385.5 L309.3 400.1 L311.5 411.0" stroke="#00ff00"/>
<path d="M43.0 270.3 L45.1 282.8 L46.3 285.7 L48.3 305.4 L50.7 306.6 L53.2 320.0 L55.0 316.6 L57.1 324.5 L58.1 328.4 L60.9 313.5 L63.1 324.4 L65.5 329.1 L68.4 331.5 L72.0 333.2 L75.2 337.1 L77.5 344.6 L79.7 342.4 L82.7 347.6 L86.4 349.8 L88.6 345.3 L91.6 352.0 L94.6 359.5 L96.5 358.0 L98.3 364.0 L100.6 358.0 L103.5 366.2 L108.0 348.3 L111.0 357.3 L114.0 365.5 L116.7 369.2 L118.9 371.4 L121.2 391.5 L124.2 377.4 L125.6 381.8 L130.1 367.7 L132.4 377.4 L134.6 399.7 L136.1 395.2 L136.8 407.2 L138.3 393.7 L140.1 417.6 L142.8 392.3 L145.0 406.4 L147.3 387.8 L149.9 371.4 L152.5 384.8 L154.0 390.8 L155.5 374.4 L157.7 413.9 L159.9 387.8 L162.2 387.0 L163.7 377.4 L165.9 401.2 L168.1 383.3 L169.6 393.7 L171.1 410.1 L172.6 404.2 L174.8 421.0 L176.3 396.7 L178.6 387.8 L180.8 374.4 L182.3 384.8 L184.5 392.3 L186.0 387.8 L188.2 393.7 L189.7 399.7 L192.0 421.0 L193.5 392.3 L195.7 389.3 L197.9 390.8 L200.2 383.3 L202.2 389.2 L204.0 421.0 L206.4 407.4 L207.7 421.0 L210.6 397.4 L212.4 405.6 L214.6 416.5 L217.3 403.8 L218.2 391.0 L219.8 393.5 L221.0 388.0 L222.3 393.0 L223.2 389.0 L224.0 403.8 L227.0 373.7 L228.8 402.0 L231.3 403.8 L233.2 419.2 L235.5 402.8 L237.3 418.3 L239.7 402.8 L241.5 418.3 L244.6 381.0 L247.0 402.0 L249.2 416.5 L251.9 392.8 L254.6 402.0 L256.8 416.5 L261.9 415.6 L263.8 400.1 L266.5 383.7 L268.9 414.7 L270.7 398.3 L272.3 398.6 L273.6 414.7 L275.6 414.5 M281.6 413.9 L282.1 413.8 L283.0 374.6 L286.5 373.7 L289.3 385.5 L292.0 374.6 L294.7 385.5 L297.4 412.9 L301.1 412.0 L302.9 394.6 L304.7 412.0 L307.5 385.5 L310.2 411.0" stroke="#ff0000"/>
</g>
<rect x="39.2" y="251.7" width="273.6" height="169.4" fill="none" stroke="#8a8a8a" stroke-width="1"/>
<path d="M39.2 421.1v-2.7M39.2 251.7v2.7M115.2 421.1v-2.7M115.2 251.7v2.7M191.2 421.1v-2.7M191.2 251.7v2.7M267.2 421.1v-2.7M267.2 251.7v2.7M39.2 251.7h2.7M312.8 251.7h-2.7M39.2 308.2h2.7M312.8 308.2h-2.7M39.2 364.6h2.7M312.8 364.6h-2.7M39.2 421.1h2.7M312.8 421.1h-2.7M39.2 404.1h1.4M312.8 404.1h-1.4M39.2 394.2h1.4M312.8 394.2h-1.4M39.2 387.1h1.4M312.8 387.1h-1.4M39.2 381.6h1.4M312.8 381.6h-1.4M39.2 377.2h1.4M312.8 377.2h-1.4M39.2 373.4h1.4M312.8 373.4h-1.4M39.2 370.1h1.4M312.8 370.1h-1.4M39.2 367.2h1.4M312.8 367.2h-1.4M39.2 347.6h1.4M312.8 347.6h-1.4M39.2 337.7h1.4M312.8 337.7h-1.4M39.2 330.6h1.4M312.8 330.6h-1.4M39.2 325.2h1.4M312.8 325.2h-1.4M39.2 320.7h1.4M312.8 320.7h-1.4M39.2 316.9h1.4M312.8 316.9h-1.4M39.2 313.6h1.4M312.8 313.6h-1.4M39.2 310.8h1.4M312.8 310.8h-1.4M39.2 291.2h1.4M312.8 291.2h-1.4M39.2 281.2h1.4M312.8 281.2h-1.4M39.2 274.2h1.4M312.8 274.2h-1.4M39.2 268.7h1.4M312.8 268.7h-1.4M39.2 264.2h1.4M312.8 264.2h-1.4M39.2 260.4h1.4M312.8 260.4h-1.4M39.2 257.2h1.4M312.8 257.2h-1.4M39.2 254.3h1.4M312.8 254.3h-1.4" stroke="#8a8a8a" stroke-width="0.6" fill="none"/>
<text x="38.9" y="435.7" font-size="10.2" text-anchor="middle">0</text>
<text x="114.9" y="435.7" font-size="10.2" text-anchor="middle">50</text>
<text x="190.9" y="435.7" font-size="10.2" text-anchor="middle">100</text>
<text x="266.9" y="435.7" font-size="10.2" text-anchor="middle">150</text>
<text x="27.3" y="257.3" font-size="10.2" text-anchor="end">10</text>
<text x="34.3" y="251.5" font-size="7.6" text-anchor="end">-1</text>
<text x="27.3" y="313.8" font-size="10.2" text-anchor="end">10</text>
<text x="34.3" y="308.0" font-size="7.6" text-anchor="end">-2</text>
<text x="27.3" y="370.2" font-size="10.2" text-anchor="end">10</text>
<text x="34.3" y="364.4" font-size="7.6" text-anchor="end">-3</text>
<text x="27.3" y="426.7" font-size="10.2" text-anchor="end">10</text>
<text x="34.3" y="420.9" font-size="7.6" text-anchor="end">-4</text>
<text x="175.5" y="246.1" font-size="11.8" font-weight="bold" text-anchor="middle">Polyethylene</text>
<text x="175.7" y="451.3" font-size="11.8" text-anchor="middle">LET(H20) keV/um</text>
<text transform="translate(10.5 337.6) rotate(-90)" font-size="11.8" text-anchor="middle">dose rate (nGy/(s keV/um))</text>
<rect x="238.3" y="258.4" width="67.5" height="42.9" fill="#fff" stroke="#8a8a8a" stroke-width="0.6"/>
<line x1="240.9" y1="265.5" x2="261.0" y2="265.5" stroke="#0000ff" stroke-width="1.3"/>
<text x="263.5" y="269.2" font-size="9.5">no shield</text>
<line x1="240.9" y1="278.7" x2="261.0" y2="278.7" stroke="#00ff00" stroke-width="1.3"/>
<text x="263.5" y="283.9" font-size="9.5">5 g/cm<tspan dx="0.6" dy="-4.1" font-size="7.6">2</tspan></text>
<line x1="240.9" y1="293.0" x2="261.0" y2="293.0" stroke="#ff0000" stroke-width="1.3"/>
<text x="263.5" y="298.5" font-size="9.5">10 g/cm<tspan dx="0.6" dy="-4.1" font-size="7.6">2</tspan></text>
<text x="48.0" y="297.4" font-size="10.5">C</text>
<text x="56.7" y="297.4" font-size="10.5">O</text>
<text x="68.1" y="318.5" font-size="10.5">Ne</text>
<text x="81.5" y="324.3" font-size="10.5">Mg</text>
<text x="103.2" y="332.6" font-size="10.5">Si</text>
<text x="115.5" y="344.4" font-size="10.5">P</text>
<text x="125.6" y="347.8" font-size="10.5">S</text>
<text x="133.4" y="358.7" font-size="10.5">Cl</text>
<text x="143.5" y="361.7" font-size="10.5">Ar</text>
<text x="177.0" y="359.4" font-size="10.5">Ca</text>
<text x="202.5" y="355.5" font-size="10.5">Ti</text>
<text x="282.5" y="339.9" font-size="10.5">Fe</text>
<g><line x1="475.2" y1="251.7" x2="475.2" y2="421.1" stroke="#ededed" stroke-width="0.6"/><line x1="551.1" y1="251.7" x2="551.1" y2="421.1" stroke="#ededed" stroke-width="0.6"/><line x1="626.9" y1="251.7" x2="626.9" y2="421.1" stroke="#ededed" stroke-width="0.6"/><line x1="399.4" y1="325.3" x2="672.5" y2="325.3" stroke="#ededed" stroke-width="0.6"/><line x1="399.4" y1="398.9" x2="672.5" y2="398.9" stroke="#ededed" stroke-width="0.6"/><line x1="399.4" y1="415.3" x2="672.5" y2="415.3" stroke="#ececec" stroke-width="0.5" stroke-dasharray="0.7 1.4"/><line x1="399.4" y1="410.3" x2="672.5" y2="410.3" stroke="#ececec" stroke-width="0.5" stroke-dasharray="0.7 1.4"/><line x1="399.4" y1="406.1" x2="672.5" y2="406.1" stroke="#ececec" stroke-width="0.5" stroke-dasharray="0.7 1.4"/><line x1="399.4" y1="402.3" x2="672.5" y2="402.3" stroke="#ececec" stroke-width="0.5" stroke-dasharray="0.7 1.4"/><line x1="399.4" y1="376.8" x2="672.5" y2="376.8" stroke="#ececec" stroke-width="0.5" stroke-dasharray="0.7 1.4"/><line x1="399.4" y1="363.8" x2="672.5" y2="363.8" stroke="#ececec" stroke-width="0.5" stroke-dasharray="0.7 1.4"/><line x1="399.4" y1="354.6" x2="672.5" y2="354.6" stroke="#ececec" stroke-width="0.5" stroke-dasharray="0.7 1.4"/><line x1="399.4" y1="347.5" x2="672.5" y2="347.5" stroke="#ececec" stroke-width="0.5" stroke-dasharray="0.7 1.4"/><line x1="399.4" y1="341.7" x2="672.5" y2="341.7" stroke="#ececec" stroke-width="0.5" stroke-dasharray="0.7 1.4"/><line x1="399.4" y1="336.7" x2="672.5" y2="336.7" stroke="#ececec" stroke-width="0.5" stroke-dasharray="0.7 1.4"/><line x1="399.4" y1="332.5" x2="672.5" y2="332.5" stroke="#ececec" stroke-width="0.5" stroke-dasharray="0.7 1.4"/><line x1="399.4" y1="328.7" x2="672.5" y2="328.7" stroke="#ececec" stroke-width="0.5" stroke-dasharray="0.7 1.4"/><line x1="399.4" y1="303.2" x2="672.5" y2="303.2" stroke="#ececec" stroke-width="0.5" stroke-dasharray="0.7 1.4"/><line x1="399.4" y1="290.2" x2="672.5" y2="290.2" stroke="#ececec" stroke-width="0.5" stroke-dasharray="0.7 1.4"/><line x1="399.4" y1="281.0" x2="672.5" y2="281.0" stroke="#ececec" stroke-width="0.5" stroke-dasharray="0.7 1.4"/><line x1="399.4" y1="273.9" x2="672.5" y2="273.9" stroke="#ececec" stroke-width="0.5" stroke-dasharray="0.7 1.4"/><line x1="399.4" y1="268.0" x2="672.5" y2="268.0" stroke="#ececec" stroke-width="0.5" stroke-dasharray="0.7 1.4"/><line x1="399.4" y1="263.1" x2="672.5" y2="263.1" stroke="#ececec" stroke-width="0.5" stroke-dasharray="0.7 1.4"/><line x1="399.4" y1="258.8" x2="672.5" y2="258.8" stroke="#ececec" stroke-width="0.5" stroke-dasharray="0.7 1.4"/><line x1="399.4" y1="255.1" x2="672.5" y2="255.1" stroke="#ececec" stroke-width="0.5" stroke-dasharray="0.7 1.4"/></g>
<g clip-path="url(#c3)" fill="none" stroke-width="1.50" stroke-linejoin="round" stroke-linecap="butt">
<path d="M403.2 349.6 L405.3 365.9 L406.5 369.6 L408.6 392.9 L409.6 392.9 L410.6 388.4 L411.8 398.7 L413.1 403.3 L414.7 404.6 L417.0 396.5 L420.6 360.0 L423.3 376.0 L426.2 374.1 L429.1 376.6 L432.3 365.3 L435.3 377.1 L437.6 373.3 L440.5 374.1 L444.3 376.2 L448.3 358.1 L451.0 368.6 L453.2 372.8 L455.4 370.2 L457.7 365.7 L460.7 377.4 L462.9 371.2 L466.6 353.5 L469.6 362.6 L473.3 372.2 L475.1 368.5 L477.7 377.9 L479.9 380.6 L482.2 375.8 L484.4 377.7 L488.1 364.6 L491.1 369.1 L492.6 380.8 L494.6 386.8 L498.3 373.7 L501.3 380.5 L503.5 383.6 L505.0 377.8 L507.1 391.6 L509.6 382.5 L512.6 371.4 L514.8 377.9 L517.8 394.6 L520.0 382.4 L523.0 371.6 L525.2 394.5 L527.3 402.1 L529.5 387.8 L531.7 378.5 L534.0 374.1 L535.5 380.5 L537.7 370.2 L539.9 378.4 L542.6 363.2 L545.2 382.0 L547.4 393.1 L550.4 380.8 L552.6 386.4 L554.9 419.7 L557.1 390.7 L559.3 372.4 L561.6 385.3 L563.8 394.3 L566.0 374.1 L567.7 363.3 L569.4 353.7 L571.2 363.4 L573.0 373.0 L575.4 361.4 L578.0 381.8 L580.8 393.9 L583.5 373.9 L586.2 379.0 L588.9 373.2 L591.7 380.6 L595.3 397.6 L598.1 369.3 L600.8 383.7 L602.6 374.3 L604.4 436.2 L607.5 368.8 L610.8 391.6 L614.1 380.0 L616.3 394.4 L619.0 380.4 L622.6 375.8 L625.4 366.6 L628.6 416.7 L630.7 374.0 L633.5 390.9 L636.2 360.2 L638.9 374.6 L641.7 360.6 L643.9 370.2 L644.6 366.1 L646.7 343.0 L649.0 372.3 L650.5 381.5 L652.0 376.4 L653.9 361.9 L657.1 378.1 L659.9 368.9 L662.6 411.7 L667.2 376.4 L669.0 376.5 L672.6 433.7" stroke="#0000ff"/>
<path d="M403.2 349.6 L405.3 366.1 L406.5 370.0 L408.6 394.4 L410.0 396.1 L412.0 403.9 L413.4 408.1 L415.2 404.0 L417.4 399.0 L420.9 371.5 L423.9 379.2 L427.4 379.6 L429.7 381.9 L432.1 375.2 L433.8 377.1 L436.8 384.0 L439.0 380.5 L441.3 384.9 L444.3 394.6 L446.5 378.2 L448.7 366.5 L451.7 377.7 L453.9 389.8 L456.2 376.4 L458.4 388.6 L461.4 390.5 L464.4 375.1 L467.4 363.8 L470.3 375.7 L473.3 387.8 L476.2 380.4 L479.9 373.9 L482.2 381.6 L484.9 394.0 L487.6 381.0 L490.1 379.3 L492.4 388.1 L494.6 402.7 L499.1 412.8 L501.3 386.7 L505.0 407.8 L507.3 392.5 L510.2 379.9 L512.5 398.6 L514.7 386.3 L516.9 399.2 L519.2 383.0 L521.4 397.9 L525.1 368.7 L527.3 410.8 L531.0 393.3 L534.0 380.9 L537.0 399.5 L539.9 381.4 L542.9 396.1 L544.4 411.3 L546.2 441.1 L548.1 375.5 L550.4 396.3 L552.6 392.2 L554.9 376.9 L557.1 390.7 L559.3 373.5 L561.6 383.4 L563.8 399.2 L565.4 417.5 L566.7 402.4 L568.1 396.4 L569.3 404.6 L570.5 398.2 L571.7 404.1 L572.9 395.1 L574.2 383.5 L576.3 367.4 L578.9 396.2 L582.6 375.1 L585.3 378.9 L588.9 374.4 L591.7 386.6 L595.3 402.3 L599.0 395.4 L602.6 412.4 L605.3 390.0 L608.6 436.6 L611.7 394.0 L614.4 408.5 L617.2 401.6 L620.8 416.1 L623.6 397.3 L626.3 409.3 L629.8 375.1 L632.6 393.2 L635.3 389.9 L638.0 379.4 L640.7 410.3 L643.9 436.7 L646.2 377.4 L648.0 374.0 L650.4 384.9 L652.6 374.3 L655.3 387.5 L658.1 411.4 L659.9 399.7 L662.6 411.7 L666.3 400.0 L669.0 419.2 L671.2 433.6" stroke="#00ff00"/>
<path d="M403.2 349.6 L405.3 365.9 L406.5 369.6 L408.5 395.3 L410.9 396.9 L413.4 414.4 L415.2 406.1 L417.3 405.8 L418.3 406.9 L421.1 378.3 L423.3 386.8 L425.6 387.7 L428.5 385.5 L432.1 382.1 L435.3 382.9 L437.6 389.9 L439.8 384.6 L442.8 388.3 L446.5 387.8 L448.7 380.1 L451.7 386.4 L454.7 394.0 L456.6 390.7 L458.4 397.3 L460.7 388.0 L463.6 397.0 L468.1 371.1 L471.1 381.2 L474.1 390.4 L476.7 393.9 L478.9 395.7 L481.2 420.9 L484.2 401.2 L485.6 406.3 L490.1 386.1 L492.4 397.8 L494.6 426.1 L496.1 419.6 L496.8 435.0 L498.3 416.9 L500.1 441.1 L502.8 413.5 L505.0 431.1 L507.3 406.1 L509.9 383.9 L512.5 400.5 L514.0 407.9 L515.5 386.1 L517.7 436.9 L519.9 402.2 L522.2 400.5 L523.7 387.6 L525.8 418.0 L528.0 394.1 L529.5 407.2 L531.0 428.2 L532.5 420.1 L534.7 441.1 L536.2 409.4 L538.5 397.2 L540.7 379.2 L542.2 392.4 L544.4 401.6 L545.9 395.4 L548.1 402.6 L549.6 410.1 L551.9 441.1 L553.4 400.1 L555.6 396.4 L557.8 398.6 L560.1 389.1 L562.1 397.0 L563.9 441.1 L566.3 421.1 L567.6 441.1 L570.5 408.5 L572.3 419.3 L574.5 433.7 L577.1 417.4 L578.0 400.8 L579.6 404.2 L580.8 397.1 L582.1 403.8 L583.0 398.6 L583.8 418.0 L586.8 379.0 L588.6 416.1 L591.1 418.6 L593.0 438.9 L595.3 417.7 L597.1 438.0 L599.5 418.0 L601.3 438.4 L604.4 390.0 L606.8 417.5 L609.0 436.6 L611.7 405.9 L614.4 418.1 L616.6 437.2 L621.7 436.4 L623.6 416.3 L626.3 395.1 L628.6 435.7 L630.4 414.4 L632.0 414.9 L633.3 436.0 L635.3 435.9 M641.3 435.5 L641.8 435.4 L642.7 384.4 L646.2 383.4 L649.0 399.0 L651.7 384.9 L654.4 399.3 L657.1 435.2 L660.8 434.3 L662.6 411.7 L664.4 434.5 L667.2 400.1 L669.9 433.5" stroke="#ff0000"/>
</g>
<rect x="399.4" y="251.7" width="273.1" height="169.4" fill="none" stroke="#8a8a8a" stroke-width="1"/>
<path d="M399.4 421.1v-2.7M399.4 251.7v2.7M475.2 421.1v-2.7M475.2 251.7v2.7M551.1 421.1v-2.7M551.1 251.7v2.7M626.9 421.1v-2.7M626.9 251.7v2.7M399.4 251.7h2.7M672.5 251.7h-2.7M399.4 325.3h2.7M672.5 325.3h-2.7M399.4 398.9h2.7M672.5 398.9h-2.7M399.4 415.3h1.4M672.5 415.3h-1.4M399.4 410.3h1.4M672.5 410.3h-1.4M399.4 406.1h1.4M672.5 406.1h-1.4M399.4 402.3h1.4M672.5 402.3h-1.4M399.4 376.8h1.4M672.5 376.8h-1.4M399.4 363.8h1.4M672.5 363.8h-1.4M399.4 354.6h1.4M672.5 354.6h-1.4M399.4 347.5h1.4M672.5 347.5h-1.4M399.4 341.7h1.4M672.5 341.7h-1.4M399.4 336.7h1.4M672.5 336.7h-1.4M399.4 332.5h1.4M672.5 332.5h-1.4M399.4 328.7h1.4M672.5 328.7h-1.4M399.4 303.2h1.4M672.5 303.2h-1.4M399.4 290.2h1.4M672.5 290.2h-1.4M399.4 281.0h1.4M672.5 281.0h-1.4M399.4 273.9h1.4M672.5 273.9h-1.4M399.4 268.0h1.4M672.5 268.0h-1.4M399.4 263.1h1.4M672.5 263.1h-1.4M399.4 258.8h1.4M672.5 258.8h-1.4M399.4 255.1h1.4M672.5 255.1h-1.4" stroke="#8a8a8a" stroke-width="0.6" fill="none"/>
<text x="399.1" y="435.7" font-size="10.2" text-anchor="middle">0</text>
<text x="474.9" y="435.7" font-size="10.2" text-anchor="middle">50</text>
<text x="550.8" y="435.7" font-size="10.2" text-anchor="middle">100</text>
<text x="626.6" y="435.7" font-size="10.2" text-anchor="middle">150</text>
<text x="390.7" y="257.3" font-size="10.2" text-anchor="end">10</text>
<text x="395.4" y="251.5" font-size="7.6" text-anchor="end">0</text>
<text x="387.5" y="330.9" font-size="10.2" text-anchor="end">10</text>
<text x="394.5" y="325.1" font-size="7.6" text-anchor="end">-1</text>
<text x="387.5" y="404.5" font-size="10.2" text-anchor="end">10</text>
<text x="394.5" y="398.7" font-size="7.6" text-anchor="end">-2</text>
<text x="535.4" y="246.1" font-size="11.8" font-weight="bold" text-anchor="middle">Polyethylene</text>
<text x="535.6" y="451.3" font-size="11.8" text-anchor="middle">LET(H20) keV/um</text>
<text transform="translate(370.7 338.3) rotate(-90)" font-size="11.8" text-anchor="middle">dose eq. rate (nSv/(s keV/um))</text>
<rect x="598.5" y="258.4" width="67.5" height="42.9" fill="#fff" stroke="#8a8a8a" stroke-width="0.6"/>
<line x1="601.1" y1="265.5" x2="621.2" y2="265.5" stroke="#0000ff" stroke-width="1.3"/>
<text x="623.7" y="269.2" font-size="9.5">no shield</text>
<line x1="601.1" y1="278.7" x2="621.2" y2="278.7" stroke="#00ff00" stroke-width="1.3"/>
<text x="623.7" y="283.9" font-size="9.5">5 g/cm<tspan dx="0.6" dy="-4.1" font-size="7.6">2</tspan></text>
<line x1="601.1" y1="293.0" x2="621.2" y2="293.0" stroke="#ff0000" stroke-width="1.3"/>
<text x="623.7" y="298.5" font-size="9.5">10 g/cm<tspan dx="0.6" dy="-4.1" font-size="7.6">2</tspan></text>
<text x="408.0" y="385.5" font-size="10.5">C</text>
<text x="416.3" y="358.6" font-size="10.5">O</text>
<text x="427.0" y="360.9" font-size="10.5">Ne</text>
<text x="440.9" y="356.4" font-size="10.5">Mg</text>
<text x="461.4" y="350.3" font-size="10.5">Si</text>
<text x="473.7" y="363.1" font-size="10.5">P</text>
<text x="484.9" y="361.5" font-size="10.5">S</text>
<text x="491.9" y="372.0" font-size="10.5">Cl</text>
<text x="501.9" y="375.4" font-size="10.5">Ar</text>
<text x="534.8" y="361.5" font-size="10.5">Ca</text>
<text x="563.0" y="353.6" font-size="10.5">Ti</text>
<text x="642.5" y="341.0" font-size="10.5">Fe</text>
</svg></body></html>
